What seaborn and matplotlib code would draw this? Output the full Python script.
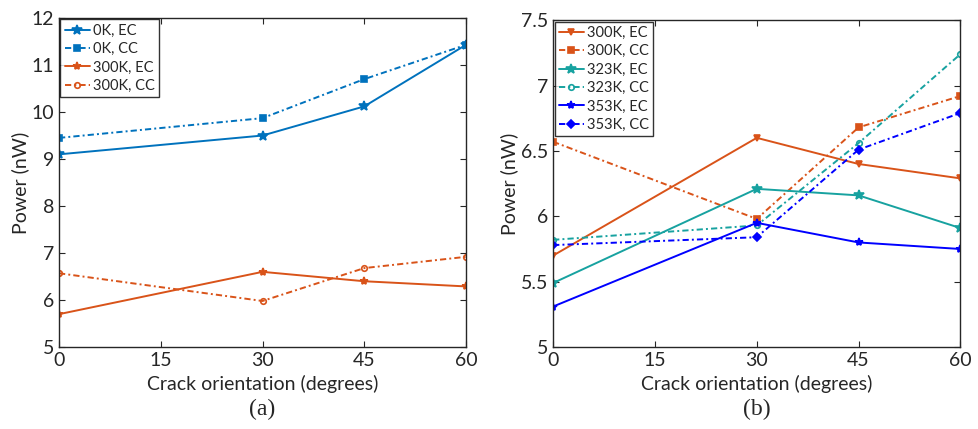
import matplotlib
matplotlib.use("Agg")
import matplotlib.pyplot as plt
import seaborn as sns
import numpy as np

sns.set_style("ticks")
plt.rcParams['font.family'] = ['Lato', 'DejaVu Sans']

angles = [0, 30, 45, 60]

# panel (a)
a_0K_EC = [9.1, 9.5, 10.12, 11.43]
a_0K_CC = [9.45, 9.87, 10.7, 11.43]
a_300K_EC = [5.7, 6.6, 6.4, 6.29]
a_300K_CC = [6.57, 5.98, 6.68, 6.92]

# panel (b)
b_300K_EC = [5.7, 6.6, 6.4, 6.29]
b_300K_CC = [6.57, 5.98, 6.68, 6.92]
b_323K_EC = [5.49, 6.21, 6.16, 5.91]
b_323K_CC = [5.82, 5.93, 6.56, 7.24]
b_353K_EC = [5.31, 5.95, 5.80, 5.75]
b_353K_CC = [5.78, 5.84, 6.51, 6.79]

x_ticks = [0, 15, 30, 45, 60]
a_yticks = [5, 6, 7, 8, 9, 10, 11, 12]
b_yticks = [5, 5.5, 6, 6.5, 7, 7.5]
b_yticklabels = ["5", "5.5", "6", "6.5", "7", "7.5"]

BLUE = "#0072BD"
ORANGE = "#D95319"
TEAL = "#17A2A0"
PURE = "#0000FF"

DASHDOT = (0, (3.2, 1.6, 1.0, 1.6))

fig = plt.figure(figsize=(9.79, 4.29), dpi=100)
axA = fig.add_axes([0.0603, 0.191, 0.4157, 0.767])
axB = fig.add_axes([0.565, 0.191, 0.416, 0.762])

seriesA = [
    ("0K, EC", a_0K_EC, BLUE, "*", "-", 7),
    ("0K, CC", a_0K_CC, BLUE, "s", DASHDOT, 4),
    ("300K, EC", a_300K_EC, ORANGE, "*", "-", 6),
    ("300K, CC", a_300K_CC, ORANGE, "o", DASHDOT, 4),
]
seriesB = [
    ("300K, EC", b_300K_EC, ORANGE, "v", "-", 5),
    ("300K, CC", b_300K_CC, ORANGE, "s", DASHDOT, 4),
    ("323K, EC", b_323K_EC, TEAL, "*", "-", 7),
    ("323K, CC", b_323K_CC, TEAL, "o", DASHDOT, 4),
    ("353K, EC", b_353K_EC, PURE, "*", "-", 6),
    ("353K, CC", b_353K_CC, PURE, "D", DASHDOT, 4),
]

def draw(ax, series, yticks, yticklabels, ylim):
    for lab, vals, col, mk, ls, ms in series:
        sns.lineplot(x=angles, y=vals, ax=ax, color=col, marker=mk, linestyle=ls,
                     markersize=ms, linewidth=1.4, label=lab,
                     markerfacecolor=col if mk in ("*", "v", "s", "D") else "none",
                     markeredgecolor=col, markeredgewidth=1.2)
    ax.set_xlim(0, 60)
    ax.set_ylim(*ylim)
    ax.set_xticks(x_ticks)
    ax.set_yticks(yticks)
    ax.set_yticklabels(yticklabels)
    ax.tick_params(direction="in", top=True, right=True, labelsize=14, length=4, width=0.8)
    for s in ax.spines.values():
        s.set_visible(True)
        s.set_linewidth(1.0)
    ax.set_xlabel("Crack orientation (degrees)", fontsize=14)
    ax.set_ylabel("Power (nW)", fontsize=14, labelpad=2)
    leg = ax.legend(loc="upper left", fontsize=10.5, frameon=True, fancybox=False,
                    borderaxespad=0.1, handlelength=1.7, handletextpad=0.2,
                    labelspacing=0.3, borderpad=0.3, edgecolor="black")
    leg.get_frame().set_linewidth(1.0)

draw(axA, seriesA, a_yticks, [str(v) for v in a_yticks], (5, 12))
draw(axB, seriesB, b_yticks, b_yticklabels, (5, 7.5))

fig.text(0.268, 0.02, "(a)", ha="center", va="bottom", fontsize=17, family="Liberation Serif")
fig.text(0.773, 0.02, "(b)", ha="center", va="bottom", fontsize=17, family="Liberation Serif")

fig.savefig("out.png", dpi=100)
